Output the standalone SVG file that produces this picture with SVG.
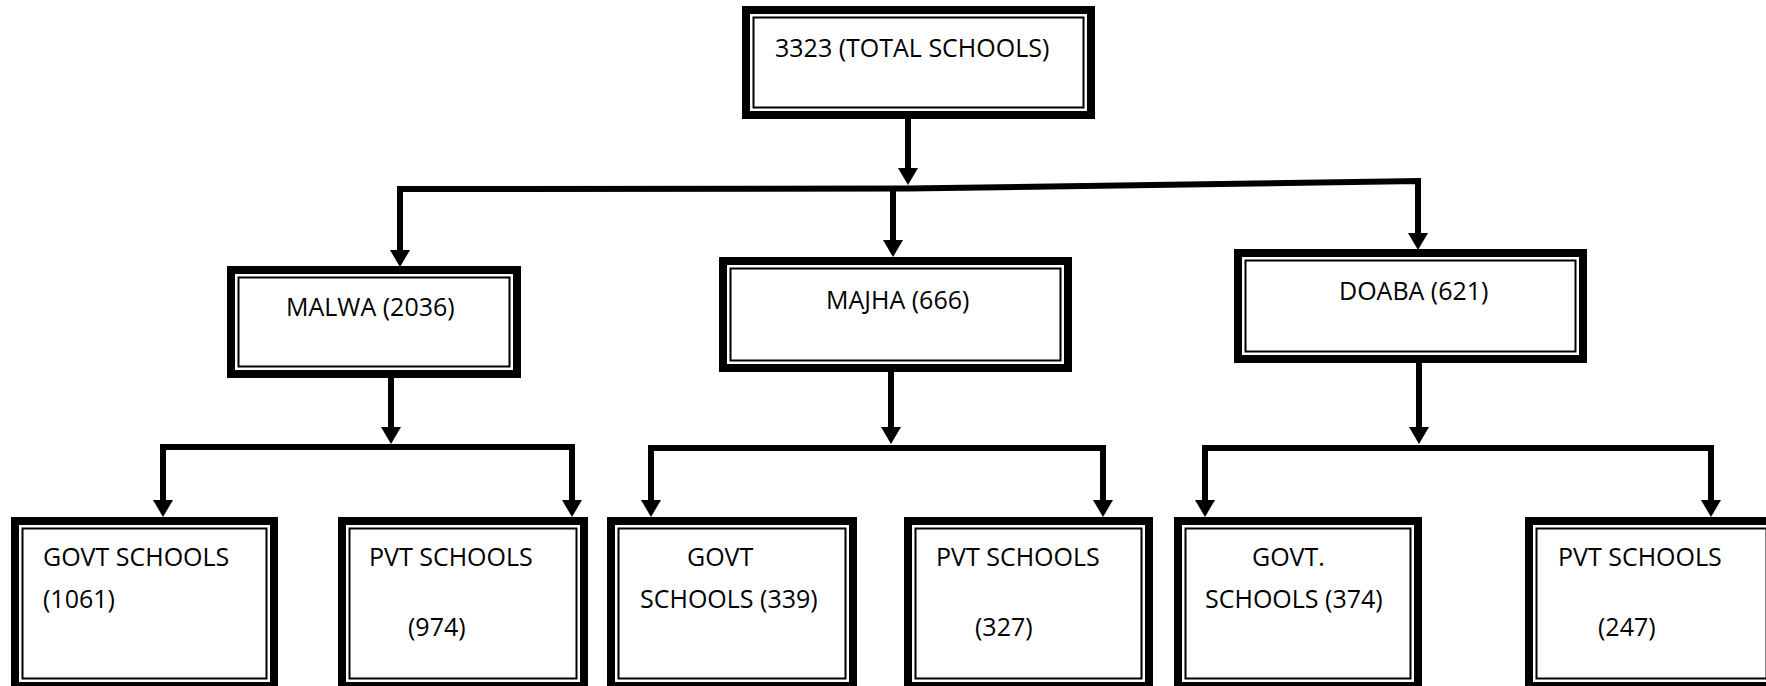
<svg xmlns="http://www.w3.org/2000/svg" width="1766" height="686" viewBox="0 0 1766 686">
  <style>
    .frame { fill: #fff; stroke: #000; stroke-width: 8; }
    .inner { fill: none; stroke: #000; stroke-width: 2; }
    .lbl { font-family: "Open Sans", "Liberation Sans", sans-serif; font-size: 25px; fill: #000; }
    .wire { fill: none; stroke: #000; stroke-width: 6; stroke-linejoin: miter; marker-start: url(#head); marker-end: url(#head); }
    .drop { fill: none; stroke: #000; stroke-width: 6; marker-end: url(#head); }
  </style>
  <defs>
    <!-- solid triangular arrowhead; tip sits 10px beyond the line end -->
    <marker id="head" markerUnits="userSpaceOnUse" markerWidth="17" markerHeight="20" viewBox="0 0 17 20" refX="7" refY="10" orient="auto-start-reverse">
      <path d="M0,0 L17,10 L0,20 Z" fill="#000"/>
    </marker>
  </defs>
  <rect width="1766" height="686" fill="#fff"/>

  <!-- connectors -->
  <g id="connectors">
    <!-- total -> regions -->
    <path class="drop" d="M908,119 L908,175"/>
    <path class="wire" d="M400,257 L400,189 L908,188.5 L1418,181 L1418,240"/>
    <path class="drop" d="M893,189 L893,247"/>
    <!-- region -> school type -->
    <path class="drop" d="M391,378 L391,434"/>
    <path class="wire" d="M163,507 L163,447 L572,447 L572,507"/>
    <path class="drop" d="M891,372 L891,434"/>
    <path class="wire" d="M651,507 L651,448 L1103,448 L1103,507"/>
    <path class="drop" d="M1419,363 L1419,434"/>
    <path class="wire" d="M1205,507 L1205,448 L1711,448 L1711,507"/>
  </g>

  <!-- root -->
  <g id="total">
    <rect class="frame" x="746" y="10" width="345" height="105"/>
    <rect class="inner" x="753.5" y="17.5" width="330" height="90"/>
    <text class="lbl" x="775" y="57">3323 (TOTAL SCHOOLS)</text>
  </g>

  <!-- regions -->
  <g id="malwa">
    <rect class="frame" x="231" y="270" width="286" height="104"/>
    <rect class="inner" x="238.5" y="277.5" width="271" height="89"/>
    <text class="lbl" x="286" y="316">MALWA (2036)</text>
  </g>
  <g id="majha">
    <rect class="frame" x="723" y="261" width="345" height="107"/>
    <rect class="inner" x="730.5" y="268.5" width="330" height="92"/>
    <text class="lbl" x="826" y="309">MAJHA (666)</text>
  </g>
  <g id="doaba">
    <rect class="frame" x="1238" y="253" width="345" height="106"/>
    <rect class="inner" x="1245.5" y="260.5" width="330" height="91"/>
    <text class="lbl" x="1339" y="300">DOABA (621)</text>
  </g>

  <!-- school types -->
  <g id="malwa-govt">
    <rect class="frame" x="15" y="521" width="259" height="165"/>
    <rect class="inner" x="22.5" y="528.5" width="244" height="150"/>
    <text class="lbl" x="43" y="566">GOVT SCHOOLS</text>
    <text class="lbl" x="43" y="608">(1061)</text>
  </g>
  <g id="malwa-pvt">
    <rect class="frame" x="342" y="521" width="242" height="165"/>
    <rect class="inner" x="349.5" y="528.5" width="227" height="150"/>
    <text class="lbl" x="369" y="566">PVT SCHOOLS</text>
    <text class="lbl" x="408" y="636">(974)</text>
  </g>
  <g id="majha-govt">
    <rect class="frame" x="611" y="521" width="242" height="165"/>
    <rect class="inner" x="618.5" y="528.5" width="227" height="150"/>
    <text class="lbl" x="687" y="566">GOVT</text>
    <text class="lbl" x="640" y="608">SCHOOLS (339)</text>
  </g>
  <g id="majha-pvt">
    <rect class="frame" x="908" y="521" width="241" height="165"/>
    <rect class="inner" x="915.5" y="528.5" width="226" height="150"/>
    <text class="lbl" x="936" y="566">PVT SCHOOLS</text>
    <text class="lbl" x="975" y="636">(327)</text>
  </g>
  <g id="doaba-govt">
    <rect class="frame" x="1178" y="521" width="240" height="165"/>
    <rect class="inner" x="1185.5" y="528.5" width="225" height="150"/>
    <text class="lbl" x="1252" y="566">GOVT.</text>
    <text class="lbl" x="1205" y="608">SCHOOLS (374)</text>
  </g>
  <g id="doaba-pvt">
    <rect class="frame" x="1529" y="521" width="245" height="165"/>
    <rect class="inner" x="1536.5" y="528.5" width="230" height="150"/>
    <text class="lbl" x="1558" y="566">PVT SCHOOLS</text>
    <text class="lbl" x="1598" y="636">(247)</text>
  </g>
</svg>
